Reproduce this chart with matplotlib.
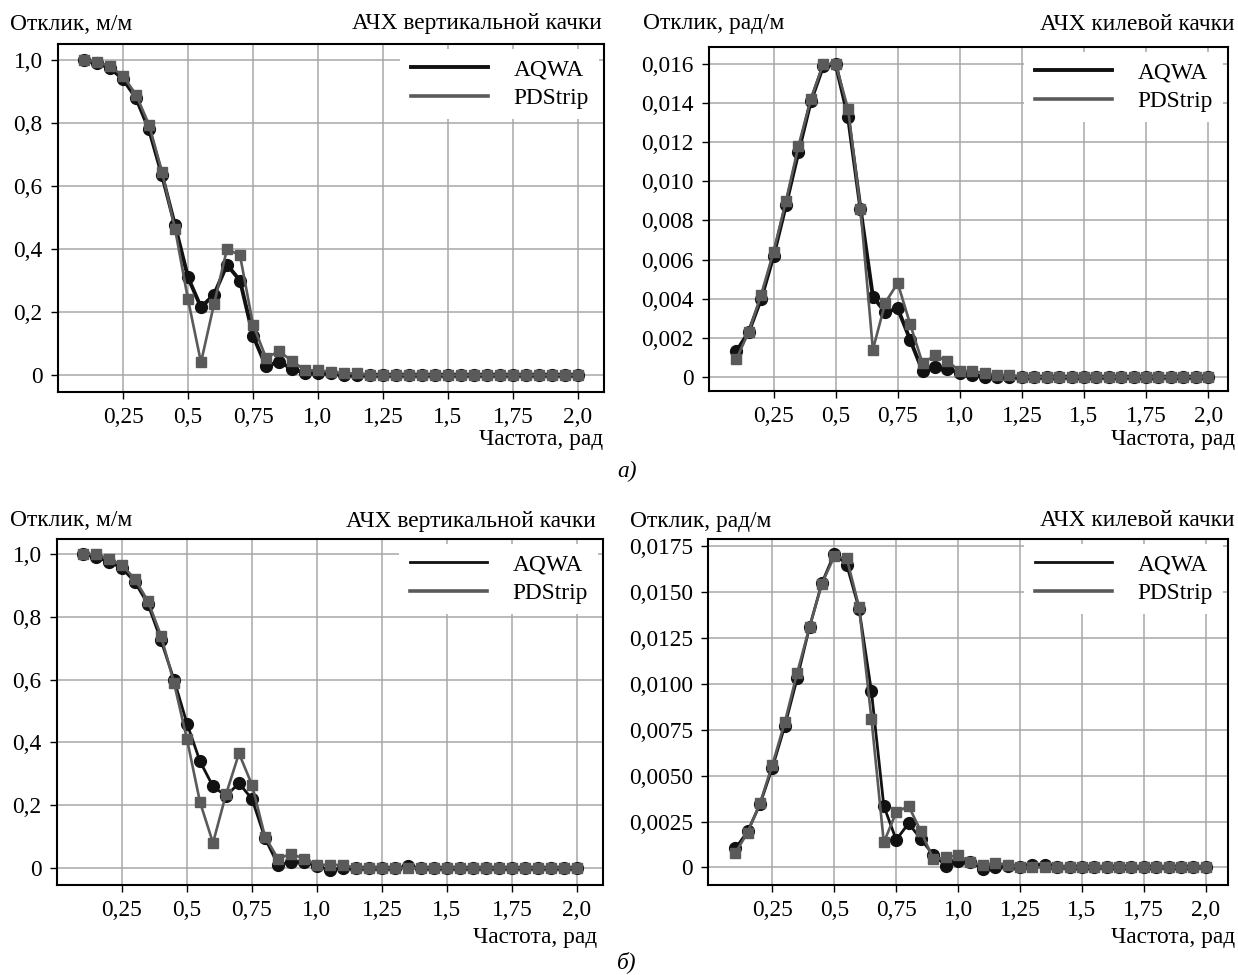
"""
АЧХ вертикальной и килевой качки: сравнение AQWA и PDStrip (варианты а и б)
"""
import matplotlib
matplotlib.use('Agg')
import matplotlib.pyplot as plt
from matplotlib.ticker import FixedLocator, FixedFormatter

plt.rcParams['font.family'] = ['Liberation Serif', 'DejaVu Serif']

W, H = 1238, 975

# Частоты, рад
freq = [0.10, 0.15, 0.20, 0.25, 0.30, 0.35, 0.40, 0.45, 0.50, 0.55,
        0.60, 0.65, 0.70, 0.75, 0.80, 0.85, 0.90, 0.95, 1.00, 1.05,
        1.10, 1.15, 1.20, 1.25, 1.30, 1.35, 1.40, 1.45, 1.50, 1.55,
        1.60, 1.65, 1.70, 1.75, 1.80, 1.85, 1.90, 1.95, 2.00]

# а) вертикальная качка
heave_a_aqwa = [1.0, 0.99, 0.975, 0.94, 0.88, 0.78, 0.635, 0.475, 0.31, 0.215,
                0.255, 0.35, 0.30, 0.125, 0.028, 0.042, 0.02, 0.006, 0.005, 0.005,
                0.0, 0.0] + [0.0] * 17
heave_a_pdstrip = [1.0, 0.995, 0.98, 0.95, 0.89, 0.795, 0.645, 0.465, 0.24, 0.04,
                   0.225, 0.40, 0.38, 0.16, 0.055, 0.075, 0.045, 0.015, 0.015, 0.01,
                   0.005, 0.005] + [0.0] * 17

# а) килевая качка
pitch_a_aqwa = [0.0013, 0.0023, 0.0040, 0.0062, 0.0088, 0.0115, 0.0141, 0.0159, 0.0160, 0.0133,
                0.0086, 0.0041, 0.0033, 0.0035, 0.0019, 0.0003, 0.0005, 0.0004, 0.0002, 0.0001,
                0.0, 0.0] + [0.0] * 17
pitch_a_pdstrip = [0.0009, 0.0023, 0.0042, 0.0064, 0.0090, 0.0118, 0.0142, 0.0160, 0.0160, 0.0137,
                   0.0086, 0.0014, 0.0038, 0.0048, 0.0027, 0.0007, 0.0011, 0.0008, 0.0003, 0.0003,
                   0.0002, 0.0001, 0.0001] + [0.0] * 16

# б) вертикальная качка
heave_b_aqwa = [1.0, 0.99, 0.975, 0.955, 0.91, 0.84, 0.725, 0.60, 0.46, 0.34,
                0.26, 0.23, 0.27, 0.22, 0.095, 0.01, 0.02, 0.02, 0.005, -0.005,
                0.0, 0.0, 0.0, 0.0, 0.0, 0.005] + [0.0] * 13
heave_b_pdstrip = [1.0, 1.0, 0.985, 0.965, 0.92, 0.85, 0.74, 0.59, 0.41, 0.21,
                   0.08, 0.235, 0.365, 0.265, 0.10, 0.03, 0.045, 0.03, 0.01, 0.01,
                   0.01, 0.0] + [0.0] * 17

# б) килевая качка
pitch_b_aqwa = [0.00103, 0.00196, 0.00344, 0.00544, 0.0077, 0.0103, 0.0131, 0.0155, 0.0171, 0.0165,
                0.0141, 0.0096, 0.00335, 0.0015, 0.0024, 0.00154, 0.00067, 0.0001, 0.00036, 0.0003,
                -0.0001, 0.0, 0.00005, 0.0, 0.00015, 0.00015] + [0.0] * 13
pitch_b_pdstrip = [0.00078, 0.0019, 0.0035, 0.0056, 0.0079, 0.0106, 0.0131, 0.01547, 0.01695, 0.01686,
                   0.0142, 0.0081, 0.00136, 0.0030, 0.00335, 0.00196, 0.00045, 0.00054, 0.00067, 0.00027,
                   0.00013, 0.00024, 0.00015] + [0.0] * 16

# Подписи осей
x_ticks = [0.25, 0.5, 0.75, 1.0, 1.25, 1.5, 1.75, 2.0]
x_labels = ['0,25', '0,5', '0,75', '1,0', '1,25', '1,5', '1,75', '2,0']
heave_ticks = [0, 0.2, 0.4, 0.6, 0.8, 1.0]
heave_labels = ['0', '0,2', '0,4', '0,6', '0,8', '1,0']
pitch_a_ticks = [0, 0.002, 0.004, 0.006, 0.008, 0.010, 0.012, 0.014, 0.016]
pitch_a_labels = ['0', '0,002', '0,004', '0,006', '0,008', '0,010', '0,012', '0,014', '0,016']
pitch_b_ticks = [0, 0.0025, 0.005, 0.0075, 0.010, 0.0125, 0.015, 0.0175]
pitch_b_labels = ['0', '0,0025', '0,0050', '0,0075', '0,0100', '0,0125', '0,0150', '0,0175']

FS = 16.8
C_AQWA = '#111111'
C_PD = '#5a5a5a'

fig = plt.figure(figsize=(W / 100, H / 100), dpi=100)


def px_box(l, t, r, b):
    return [l / W, 1 - b / H, (r - l) / W, (b - t) / H]


panels = [
    dict(box=(58, 44, 604, 392), xlim=(0, 2.1), ylim=(-0.054, 1.051),
         yt=heave_ticks, yl=heave_labels, aq=heave_a_aqwa, pd=heave_a_pdstrip,
         ylab='Отклик, м/м', title='АЧХ вертикальной качки', lw=2.8,
         ylab_x=10, top_y=24, title_r=602, xlab_r=603, xlab_y=440),
    dict(box=(709, 47, 1228, 391), xlim=(-0.01, 2.08), ylim=(-0.00072, 0.01687),
         yt=pitch_a_ticks, yl=pitch_a_labels, aq=pitch_a_aqwa, pd=pitch_a_pdstrip,
         ylab='Отклик, рад/м', title='АЧХ килевой качки', lw=2.8,
         ylab_x=643, top_y=24, title_r=1234, xlab_r=1235, xlab_y=440),
    dict(box=(57, 539, 603, 885), xlim=(0, 2.1), ylim=(-0.054, 1.048),
         yt=heave_ticks, yl=heave_labels, aq=heave_b_aqwa, pd=heave_b_pdstrip,
         ylab='Отклик, м/м', title='АЧХ вертикальной качки', lw=2.0,
         ylab_x=10, top_y=521, title_r=596, xlab_r=597, xlab_y=937),
    dict(box=(708, 539, 1228, 885), xlim=(-0.01, 2.09), ylim=(-0.00096, 0.0179),
         yt=pitch_b_ticks, yl=pitch_b_labels, aq=pitch_b_aqwa, pd=pitch_b_pdstrip,
         ylab='Отклик, рад/м', title='АЧХ килевой качки', lw=2.0,
         ylab_x=630, top_y=521, title_r=1234, xlab_r=1235, xlab_y=937),
]

for p in panels:
    ax = fig.add_axes(px_box(*p['box']))

    ax.plot(freq, p['aq'], color=C_AQWA, lw=p['lw'], marker='o', ms=8.5,
            mfc=C_AQWA, mec=C_AQWA, label='AQWA', zorder=3)
    ax.plot(freq, p['pd'], color=C_PD, lw=1.9, marker='s', ms=7.5,
            mfc=C_PD, mec=C_PD, label='PDStrip', zorder=4)

    ax.set_xlim(*p['xlim'])
    ax.set_ylim(*p['ylim'])
    ax.xaxis.set_major_locator(FixedLocator(x_ticks))
    ax.xaxis.set_major_formatter(FixedFormatter(x_labels))
    ax.yaxis.set_major_locator(FixedLocator(p['yt']))
    ax.yaxis.set_major_formatter(FixedFormatter(p['yl']))
    ax.tick_params(axis='x', direction='out', length=5, width=1, pad=6, labelsize=FS)
    ax.tick_params(axis='y', direction='out', length=5, width=1, pad=6, labelsize=FS)
    ax.grid(True, color='#a8a8a8', lw=1.1, zorder=0)
    ax.set_axisbelow(True)
    for s in ax.spines.values():
        s.set_linewidth(1.5)
        s.set_color('black')

    leg = ax.legend(loc='upper right', fontsize=FS, frameon=True, fancybox=False,
                    handlelength=3.3, handletextpad=1.1, labelspacing=0.3,
                    borderpad=0.45, borderaxespad=0.2)
    leg.get_frame().set_facecolor('white')
    leg.get_frame().set_edgecolor('none')
    leg.get_frame().set_alpha(1.0)
    for h in leg.legend_handles:
        h.set_marker('')
    leg.legend_handles[1].set_linewidth(2.6)

    fig.text(p['ylab_x'] / W, 1 - p['top_y'] / H, p['ylab'], fontsize=FS,
             ha='left', va='center')
    fig.text(p['title_r'] / W, 1 - p['top_y'] / H, p['title'], fontsize=FS,
             ha='right', va='center')
    fig.text(p['xlab_r'] / W, 1 - p['xlab_y'] / H, 'Частота, рад', fontsize=FS,
             ha='right', va='center')

fig.text(627 / W, 1 - 471 / H, 'а)', fontsize=FS, ha='center', va='center', style='italic')
fig.text(627 / W, 1 - 962 / H, 'б)', fontsize=FS, ha='center', va='center', style='italic')

plt.savefig('out.png', dpi=100)
plt.close()
